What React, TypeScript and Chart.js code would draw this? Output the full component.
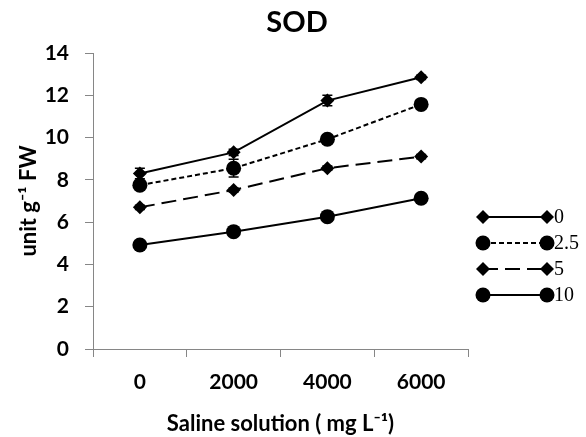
import React, { useEffect, useRef } from "react";
import { Chart, registerables } from "chart.js";

Chart.register(...registerables);

const categories = ["0", "2000", "4000", "6000"];
const seriesNames = ["0", "2.5", "5", "10"];
const values0 = [8.3, 9.3, 11.75, 12.85];
const values25 = [7.75, 8.55, 9.92, 11.57];
const values5 = [6.7, 7.52, 8.55, 9.1];
const values10 = [4.92, 5.55, 6.26, 7.13];
const err0 = [0.25, 0.15, 0.25, 0.1];
const err25 = [0.2, 0.42, 0.1, 0.1];
const err5 = [0.1, 0.1, 0.1, 0.1];
const err10 = [0.1, 0.1, 0.1, 0.1];
const yTicks = [0, 2, 4, 6, 8, 10, 12, 14];
const chartTitle = "SOD";

const FONT = "Lato, 'Open Sans', sans-serif";
const AXIS_GRAY = "#868686";

const titlePlugin = {
  id: "centeredTitle",
  afterDraw(chart: any) {
    const ctx = chart.ctx;
    ctx.save();
    ctx.fillStyle = "#000";
    ctx.font = `bold 29px ${FONT}`;
    ctx.textAlign = "center";
    ctx.textBaseline = "middle";
    ctx.fillText(chartTitle, chart.width / 2 + 4, 23);
    ctx.restore();
  },
};

const errorBarPlugin = {
  id: "errorBars",
  afterDatasetsDraw(chart: any) {
    const ctx = chart.ctx;
    const yScale = chart.scales.y;
    ctx.save();
    ctx.strokeStyle = "#000";
    ctx.lineWidth = 1.5;
    ctx.setLineDash([]);
    chart.data.datasets.forEach((ds: any, i: number) => {
      const meta = chart.getDatasetMeta(i);
      (ds.errors || []).forEach((e: number, j: number) => {
        const pt = meta.data[j];
        if (!pt) return;
        const x = pt.x;
        const yt = yScale.getPixelForValue(ds.data[j] + e);
        const yb = yScale.getPixelForValue(ds.data[j] - e);
        ctx.beginPath();
        ctx.moveTo(x, yt);
        ctx.lineTo(x, yb);
        ctx.moveTo(x - 5, yt);
        ctx.lineTo(x + 5, yt);
        ctx.moveTo(x - 5, yb);
        ctx.lineTo(x + 5, yb);
        ctx.stroke();
      });
    });
    ctx.restore();
  },
};

const customLegendPlugin = {
  id: "customLegend",
  afterDraw(chart: any) {
    const ctx = chart.ctx;
    const area = chart.chartArea;
    const x0 = area.right + 15;
    const x1 = x0 + 64;
    const yStart = area.top + 164;
    const step = 26;
    ctx.save();
    chart.data.datasets.forEach((ds: any, i: number) => {
      const y = yStart + i * step;
      ctx.strokeStyle = "#000";
      ctx.lineWidth = ds.borderWidth;
      ctx.setLineDash(ds.borderDash || []);
      ctx.beginPath();
      ctx.moveTo(x0, y);
      ctx.lineTo(x1, y);
      ctx.stroke();
      ctx.setLineDash([]);
      ctx.fillStyle = "#000";
      [x0, x1].forEach((px) => {
        ctx.beginPath();
        if (ds.pointStyle === "rectRot") {
          const r = ds.pointRadius;
          ctx.moveTo(px, y - r);
          ctx.lineTo(px + r, y);
          ctx.lineTo(px, y + r);
          ctx.lineTo(px - r, y);
          ctx.closePath();
        } else {
          ctx.arc(px, y, ds.pointRadius, 0, Math.PI * 2);
        }
        ctx.fill();
      });
      ctx.font = "20px 'Liberation Serif', 'DejaVu Serif', serif";
      ctx.textBaseline = "middle";
      ctx.textAlign = "left";
      ctx.fillText(ds.label, x1 + 7, y + 1);
    });
    ctx.restore();
  },
};

export default function App() {
  const canvasRef = useRef<HTMLCanvasElement | null>(null);

  useEffect(() => {
    document.body.style.margin = "0";
    const canvas = canvasRef.current;
    if (!canvas) return;
    const mk = (label: string, data: number[], errors: number[], style: string, radius: number, dash: number[]) => ({
      label,
      data,
      errors,
      borderColor: "#000",
      backgroundColor: "#000",
      borderWidth: 2,
      borderDash: dash,
      pointStyle: style,
      pointRadius: radius,
      pointBackgroundColor: "#000",
      pointBorderColor: "#000",
      pointBorderWidth: 0,
      tension: 0,
      fill: false,
    });
    const chart = new Chart(canvas, {
      type: "line",
      data: {
        labels: categories,
        datasets: [
          mk(seriesNames[0], values0, err0, "rectRot", 7, []),
          mk(seriesNames[1], values25, err25, "circle", 7.5, [5, 3]),
          mk(seriesNames[2], values5, err5, "rectRot", 7, [15, 7]),
          mk(seriesNames[3], values10, err10, "circle", 7.5, []),
        ] as any,
      },
      options: {
        animation: false,
        responsive: false,
        layout: { padding: { left: 0, right: 118, top: 53, bottom: 0 } },
        plugins: {
          legend: { display: false },
          tooltip: { enabled: false },
          title: { display: false },
        },
        scales: {
          x: {
            type: "category",
            offset: true,
            grid: { offset: true, drawOnChartArea: false, drawTicks: true, tickLength: 8, color: AXIS_GRAY },
            border: { color: AXIS_GRAY },
            ticks: { color: "#000", font: { family: FONT, size: 21, weight: "bold" }, padding: 13 },
            title: {
              display: true,
              text: "Saline solution ( mg L\u207B\u00B9)",
              color: "#000",
              font: { family: FONT, size: 22, weight: "bold" },
              padding: { top: 0, bottom: 0 },
            },
            afterFit: (s: any) => {
              s.height = 88;
            },
          },
          y: {
            min: 0,
            max: 14,
            afterBuildTicks: (s: any) => {
              s.ticks = yTicks.map((v) => ({ value: v }));
            },
            grid: { drawOnChartArea: false, drawTicks: true, tickLength: 8, color: AXIS_GRAY },
            border: { color: AXIS_GRAY },
            ticks: { color: "#000", font: { family: FONT, size: 21, weight: "bold" }, padding: 16 },
            title: {
              display: true,
              text: "unit g\u207B\u00B9 FW",
              color: "#000",
              font: { family: FONT, size: 22, weight: "bold" },
              padding: { top: 16, bottom: 0 },
            },
            afterFit: (s: any) => {
              s.width = 93;
            },
          },
        },
      } as any,
      plugins: [errorBarPlugin, customLegendPlugin, titlePlugin],
    });
    return () => chart.destroy();
  }, []);

  return (
    <div style={{ width: 586, height: 437, background: "#fff" }}>
      <canvas ref={canvasRef} width={586} height={437} style={{ display: "block" }} />
    </div>
  );
}
